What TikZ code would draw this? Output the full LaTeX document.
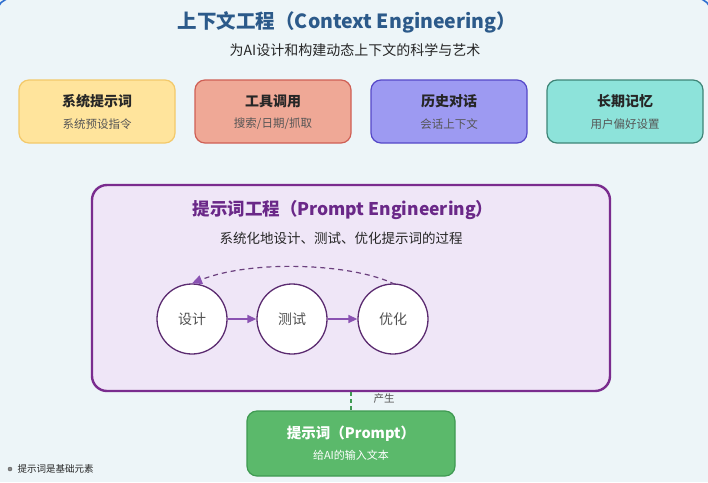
\documentclass[tikz,border=0pt]{standalone}
\usepackage{fontspec}
\setmainfont{Noto Sans CJK SC}
\usetikzlibrary{arrows.meta,calc}
\definecolor{bgc}{HTML}{EDF5F8}
\definecolor{titleblue}{HTML}{2C5A8A}
\definecolor{frameblue}{HTML}{2F6FD0}
\definecolor{y1}{HTML}{FFE49C}\definecolor{y1b}{HTML}{F3C96A}
\definecolor{r1}{HTML}{EFA896}\definecolor{r1b}{HTML}{CF5F55}
\definecolor{p1}{HTML}{9D9AF2}\definecolor{p1b}{HTML}{5548C8}
\definecolor{t1}{HTML}{8DE3DA}\definecolor{t1b}{HTML}{3E8577}
\definecolor{pfill}{HTML}{EFE6F7}\definecolor{pborder}{HTML}{7A2C8E}
\definecolor{ptitle}{HTML}{6A2888}
\definecolor{cborder}{HTML}{5B2B70}
\definecolor{arrc}{HTML}{8A52B2}
\definecolor{gfill}{HTML}{5BB96B}\definecolor{gborder}{HTML}{3F9A52}
\definecolor{darkt}{HTML}{262626}\definecolor{subt}{HTML}{555555}
\tikzset{
  topbox/.style={rounded corners=10pt, line width=1.2pt, minimum width=156pt, minimum height=63pt, inner sep=0pt},
  boxtitle/.style={text=darkt, font=\fontsize{14}{14}\selectfont\bfseries},
  boxsub/.style={text=subt, font=\fontsize{11.5}{12}\selectfont},
  stagecirc/.style={circle, draw=cborder, fill=white, line width=1.3pt, minimum size=70pt, inner sep=0pt, text=darkt!80, font=\fontsize{14}{14}\selectfont},
  flowarr/.style={draw=arrc, line width=1.4pt, -{Triangle[length=9pt,width=8pt]}},
}
\begin{document}
\begin{tikzpicture}[x=1pt,y=-1pt]
\useasboundingbox (0,0) rectangle (708,482);
\fill[bgc] (0,0) rectangle (708,482);
\draw[frameblue, line width=1.6pt, rounded corners=14pt] (-3,-1.6) rectangle (711,600);
% title
\node[text=titleblue, font=\fontsize{19.5}{20}\selectfont\bfseries] (title) at (347,22) {上下文工程（Context Engineering）};
\node[text=darkt, font=\fontsize{14}{14}\selectfont] (subtitle) at (355,50) {为AI设计和构建动态上下文的科学与艺术};
% top boxes
\node[topbox, fill=y1, draw=y1b] (b1) at (97,111.5) {};
\node[topbox, fill=r1, draw=r1b] (b2) at (273,111.5) {};
\node[topbox, fill=p1, draw=p1b] (b3) at (449,111.5) {};
\node[topbox, fill=t1, draw=t1b] (b4) at (625,111.5) {};
\node[boxtitle] (b1t) at ($(b1.center)+(0,-10.5)$) {系统提示词};
\node[boxsub] (b1s) at ($(b1.center)+(0,12.5)$) {系统预设指令};
\node[boxtitle] (b2t) at ($(b2.center)+(0,-10.5)$) {工具调用};
\node[boxsub] (b2s) at ($(b2.center)+(0,12.5)$) {搜索/日期/抓取};
\node[boxtitle] (b3t) at ($(b3.center)+(0,-10.5)$) {历史对话};
\node[boxsub] (b3s) at ($(b3.center)+(0,12.5)$) {会话上下文};
\node[boxtitle] (b4t) at ($(b4.center)+(0,-10.5)$) {长期记忆};
\node[boxsub] (b4s) at ($(b4.center)+(0,12.5)$) {用户偏好设置};
% prompt engineering box
\node[rounded corners=15pt, draw=pborder, fill=pfill, line width=2.4pt, minimum width=518pt, minimum height=206pt, inner sep=0pt] (pe) at (351,288) {};
\node[text=ptitle, font=\fontsize{17.5}{18}\selectfont\bfseries] (petitle) at (343,210) {提示词工程（Prompt Engineering）};
\node[text=darkt, font=\fontsize{13.5}{14}\selectfont] (pesub) at (341,238) {系统化地设计、测试、优化提示词的过程};
% cycle
\node[stagecirc] (c1) at (192,319) {设计};
\node[stagecirc] (c2) at (292,319) {测试};
\node[stagecirc] (c3) at (393,319) {优化};
\draw[flowarr] (c1) -- (c2);
\draw[flowarr] (c2) -- (c3);
\draw[draw=cborder!90, line width=1.2pt, dash pattern=on 5pt off 4pt, -{Triangle[length=10pt,width=9pt,color=arrc]}]
  ($(c3.north)+(2,1)$) .. controls ($(c3.north)+(-40,-20)$) and ($(c1.north)+(60,-24)$) .. (c1.north);
% prompt box
\node[rounded corners=10pt, draw=gborder, fill=gfill, line width=1.2pt, minimum width=208pt, minimum height=65pt, inner sep=0pt] (pr) at (351,443.5) {};
\node[text=white, font=\fontsize{14.5}{15}\selectfont\bfseries] (prt) at ($(pr.center)+(0,-10)$) {提示词（Prompt）};
\node[text=white, font=\fontsize{11}{11}\selectfont] (prs) at ($(pr.center)+(0,12)$) {给AI的输入文本};
\draw[gborder, line width=2pt, dash pattern=on 4pt off 3pt] (pe.south) -- (pr.north);
\node[text=subt, font=\fontsize{10.5}{11}\selectfont, anchor=west] (gen) at (370,399) {产生};
% footnote
\node[circle, fill=subt!70, draw=subt, line width=0.4pt, minimum size=4pt, inner sep=0pt] (dot) at (10,469) {};
\node[text=darkt, font=\fontsize{9.5}{10}\selectfont, anchor=west] (note) at (14,469) {提示词是基础元素};
\end{tikzpicture}
\end{document}
